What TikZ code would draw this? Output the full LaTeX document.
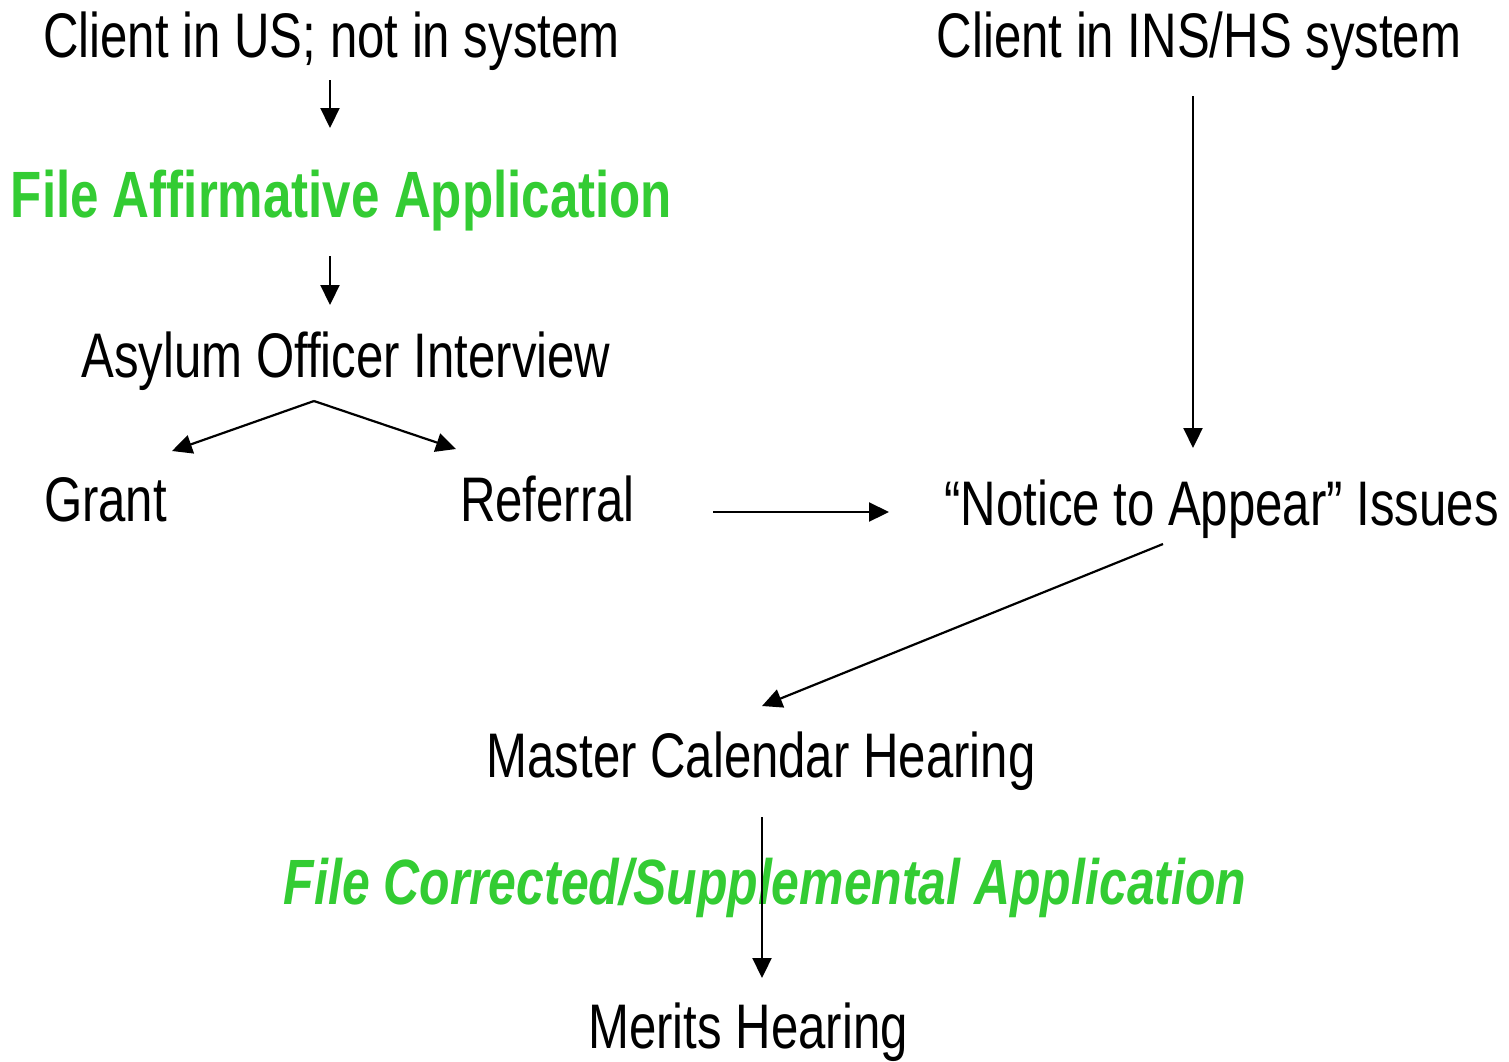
\documentclass[tikz,border=0pt]{standalone}
\usepackage{fontspec}
\setmainfont{Liberation Sans}[FakeStretch=0.78]
\usetikzlibrary{arrows.meta}
\definecolor{appgreen}{HTML}{33CC33}
\tikzset{
  lbl/.style={anchor=base, inner sep=0pt, font=\fontsize{63}{70}\selectfont},
  glbl/.style={lbl, text=appgreen, font=\fontsize{65.5}{72}\selectfont\bfseries},
  gilbl/.style={lbl, text=appgreen, font=\fontsize{64}{70}\selectfont\bfseries\itshape},
  arr/.style={line width=2.2pt, -{Triangle[length=20pt,width=19pt]}}
}
\begin{document}
\begin{tikzpicture}[x=1pt,y=-1pt]
\useasboundingbox (0,0) rectangle (1509,1061);
% nodes
\node[lbl] (c1) at (331.5,57) {Client in US; not in system};
\node[lbl] (c2) at (1199,57) {Client in INS/HS system};
\node[glbl] (faa) at (341.5,217) {File Affirmative Application};
\node[lbl] (aoi) at (346,377) {Asylum Officer Interview};
\node[lbl] (grant) at (105.5,521) {Grant};
\node[lbl] (ref) at (547.5,521) {Referral};
\node[lbl] (nta) at (1221.5,525) {“Notice to Appear” Issues};
\node[lbl] (mch) at (761,777) {Master Calendar Hearing};
\node[gilbl] (fcs) at (765,904) {File Corrected/Supplemental Application};
\node[lbl] (mh) at (748,1048) {Merits Hearing};
% connector end points
\coordinate (c1out) at (330,80);
\coordinate (faain) at (330,128);
\coordinate (faaout) at (330,256);
\coordinate (aoiin) at (330,305);
\coordinate (aoiout) at (314,401);
\coordinate (grantin) at (172,451);
\coordinate (refin) at (456,449);
\coordinate (refout) at (713,512);
\coordinate (ntain) at (889,512);
\coordinate (c2out) at (1193,96);
\coordinate (ntatop) at (1193,448);
\coordinate (ntaout) at (1163,544);
\coordinate (mchin) at (762,706);
\coordinate (mchout) at (762,817);
\coordinate (mhin) at (762,978);
% connectors
\draw[arr] (c1out) -- (faain);
\draw[arr] (faaout) -- (aoiin);
\draw[arr] (aoiout) -- (grantin);
\draw[arr] (aoiout) -- (refin);
\draw[arr] (refout) -- (ntain);
\draw[arr] (c2out) -- (ntatop);
\draw[arr] (ntaout) -- (mchin);
\draw[arr] (mchout) -- (mhin);
\end{tikzpicture}
\end{document}
